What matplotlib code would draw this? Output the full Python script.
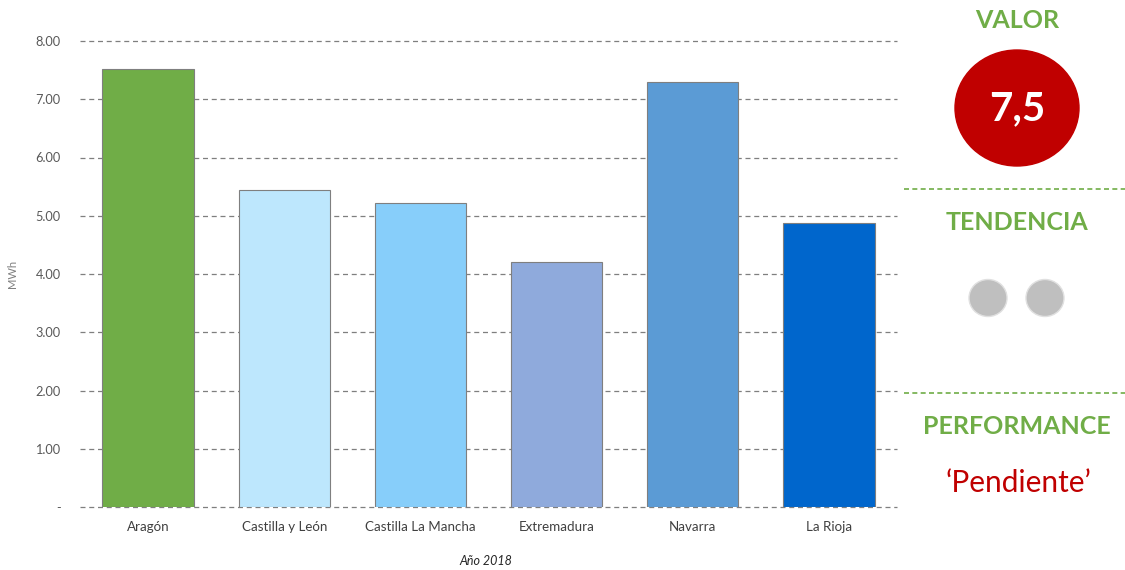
import matplotlib.pyplot as plt
from matplotlib.patches import Ellipse
from matplotlib.lines import Line2D

# Consumo medio por comunidad
regiones = ["Aragón", "Castilla y León", "Castilla La Mancha", "Extremadura", "Navarra", "La Rioja"]
consumo = [7.52, 5.44, 5.22, 4.21, 7.30, 4.88]
colores = ["#70AD47", "#BDE7FD", "#87CEFA", "#8FAADC", "#5B9BD5", "#0066CC"]
ticks_y = [0, 1, 2, 3, 4, 5, 6, 7, 8]
valor = "7,5"
performance = "\u2018Pendiente\u2019"

plt.rcParams['font.family'] = ['Lato', 'DejaVu Sans']

W, H = 1125, 570
fig = plt.figure(figsize=(W / 100, H / 100), dpi=100)

ax = fig.add_axes([80 / W, 1 - 507 / H, 817 / W, 466 / H])
ax.set_axisbelow(True)
ax.bar(range(len(regiones)), consumo, width=0.67, color=colores,
       edgecolor="#7F7F7F", linewidth=0.8, zorder=3)
ax.set_xlim(-0.5, len(regiones) - 0.5)
ax.set_ylim(0, 8)
ax.set_yticks(ticks_y)
ax.set_yticklabels(["-" if t == 0 else "%.2f" % t for t in ticks_y])
ax.set_xticks(range(len(regiones)))
ax.set_xticklabels(regiones)
ax.tick_params(axis="both", length=0, labelsize=9.6, labelcolor="#404040")
ax.tick_params(axis="y", pad=14, labelsize=9.2, labelcolor="#595959")
ax.tick_params(axis="x", pad=10)
for t in ticks_y:
    ax.axhline(t, color="#7F7F7F", linestyle=(0, (4, 3)), linewidth=0.9, zorder=1, clip_on=False)
for s in ax.spines.values():
    s.set_visible(False)
ax.set_ylabel("MWh", fontsize=8, color="#7F7F7F", labelpad=8)
ax.yaxis.set_label_coords(-62 / 817, 0.5)
fig.text(486 / W, 1 - 561 / H, "Año 2018", ha="center", va="center",
         fontsize=9, style="italic", color="#262626")

# Panel lateral de indicadores, en coordenadas de pixel
side = fig.add_axes([0, 0, 1, 1])
side.set_xlim(0, W)
side.set_ylim(H, 0)
side.axis("off")
side.patch.set_alpha(0)

green = "#70AD47"
red = "#C00000"
side.text(1017, 21, "VALOR", ha="center", va="center", fontsize=18, fontweight="bold", color=green)
side.add_patch(Ellipse((1017, 108), 124, 116, color=red))
side.text(1017, 109, valor, ha="center", va="center", fontsize=29, fontweight="bold", color="white")
side.add_line(Line2D([904, 1125], [189, 189], color=green, linestyle=(0, (3, 2)), linewidth=1.2))
side.text(1017, 223, "TENDENCIA", ha="center", va="center", fontsize=18, fontweight="bold", color=green)
for cx in (988, 1045):
    side.add_patch(Ellipse((cx, 298), 38, 37, facecolor="#BFBFBF", edgecolor="#E0E0E0", linewidth=1))
side.add_line(Line2D([904, 1125], [393, 393], color=green, linestyle=(0, (3, 2)), linewidth=1.2))
side.text(1017, 426, "PERFORMANCE", ha="center", va="center", fontsize=18, fontweight="bold", color=green)
side.text(1018, 483, performance, ha="center", va="center", fontsize=21.5, color=red)

fig.savefig("out.png", dpi=100)
